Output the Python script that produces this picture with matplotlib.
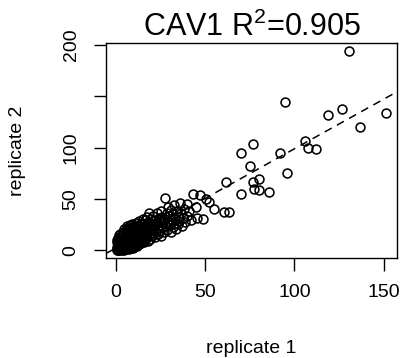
import numpy as np
import matplotlib
matplotlib.use("Agg")
import matplotlib.pyplot as plt

plt.rcParams['font.family'] = ['Liberation Sans', 'DejaVu Sans']
plt.rcParams['mathtext.fontset'] = 'custom'
plt.rcParams['mathtext.rm'] = 'Liberation Sans'
plt.rcParams['mathtext.it'] = 'Liberation Sans'
plt.rcParams['mathtext.bf'] = 'Liberation Sans'

title_text = "CAV1 R$^2$=0.905"
x_label = "replicate 1"
y_label = "replicate 2"
x_ticks = [0, 50, 100, 150]
y_ticks = [0, 50, 100, 150, 200]
y_tick_labels = ["0", "50", "100", "", "200"]

# fitted line
fit_intercept = 2.5
fit_slope = 0.965

# dense cluster (replicate 1, replicate 2)
cluster_pairs = [
    (0.4,0.5),(0.6,1.8),(0.7,3.5),(0.9,0.9),(1.0,5.2),(1.1,2.6),(1.3,0.4),(1.4,7.0),(1.5,4.1),(1.7,1.6),
    (1.8,9.2),(1.9,3.0),(2.0,6.0),(2.1,0.7),(2.3,2.1),(2.4,11.5),(2.5,4.8),(2.6,8.1),(2.8,1.2),(2.9,3.6),
    (3.0,13.6),(0.5,8.0),(0.8,10.5),(1.2,12.6),(1.6,14.8),(2.2,16.5),
    (3.1,5.5),(3.2,0.8),(3.3,9.8),(3.4,2.6),(3.5,7.2),(3.6,15.5),(3.7,4.0),(3.8,11.8),(3.9,1.5),(4.0,18.0),
    (4.1,6.4),(4.2,3.2),(4.3,8.9),(4.4,13.4),(4.5,0.6),(4.6,5.0),(4.7,20.5),(4.8,10.8),(4.9,2.3),(5.0,7.6),
    (5.1,16.8),(5.2,4.1),(5.3,12.5),(5.4,1.3),(5.5,9.5),(5.6,19.0),(5.7,6.0),(5.8,3.0),(5.9,14.4),
    (6.1,8.2),(6.2,2.0),(6.3,11.0),(6.4,17.0),(6.5,5.0),(6.6,21.5),(6.7,7.0),(6.8,13.5),(6.9,3.6),(7.0,9.6),
    (7.1,15.8),(7.2,1.5),(7.3,19.6),(7.4,6.2),(7.5,12.0),(7.6,24.5),(7.7,4.4),(7.8,8.8),(7.9,17.8),(8.0,10.6),
    (8.1,2.8),(8.2,14.2),(8.3,22.0),(8.4,6.8),(8.5,11.8),(8.6,19.4),(8.7,4.0),(8.8,9.0),(8.9,26.0),(9.0,15.5),
    (9.1,7.4),(9.2,12.8),(9.3,2.5),(9.4,21.0),(9.5,5.6),(9.6,17.0),(9.7,10.2),(9.8,24.0),(9.9,8.0),(10.0,13.8),
    (10.2,3.8),(10.4,19.0),(10.5,6.5),(10.7,11.5),(10.9,27.0),(11.0,15.6),(11.2,9.0),(11.4,22.5),(11.5,4.8),
    (11.7,13.0),(11.9,17.8),(12.0,7.4),(12.2,25.0),(12.4,10.8),(12.5,20.0),(12.7,5.9),(12.9,14.8),(13.0,29.0),
    (13.2,8.6),(13.4,17.2),(13.5,11.9),(13.7,23.6),(13.9,6.8),(14.0,20.4),(14.2,14.0),(14.4,27.0),(14.5,9.4),
    (14.7,16.6),(14.9,31.0),
    (15.0,12.2),(15.2,22.0),(15.4,7.8),(15.6,18.6),(15.8,26.2),(16.0,14.5),(16.2,10.2),(16.4,29.5),(16.6,20.6),
    (16.8,16.4),(17.0,12.0),(17.2,24.5),(17.4,33.0),(17.6,18.6),(17.8,9.2),(18.0,22.4),(18.4,14.6),
    (18.6,27.5),(18.8,20.0),(19.0,11.6),(19.2,31.0),(19.4,17.0),(19.6,24.0),(19.8,13.8),(20.0,28.5),
    (20.3,19.5),(20.6,34.0),(20.9,15.2),(21.2,25.5),(21.5,22.0),(21.8,30.0),(22.1,12.8),(22.4,18.4),(22.7,27.6),
    (23.0,36.5),(23.3,21.5),(23.6,16.2),(23.9,31.5),(24.2,24.8),(24.5,19.0),(24.8,28.5),(25.1,14.5),(25.4,38.0),
    (25.7,22.6),(26.0,33.0),
    (26.4,26.8),(26.8,18.0),(27.6,30.5),(28.0,23.5),(28.4,36.5),(28.8,20.0),(29.2,27.8),(29.8,33.5),
    (30.2,24.8),(30.6,39.0),(31.0,17.5),(31.4,29.5),(31.8,35.8),(32.2,22.6),(32.6,44.5),(33.0,31.0),(33.4,27.0),
    (33.8,20.5),(34.2,38.5),(34.6,33.0),(35.0,25.5),(35.5,29.0),(36.4,36.0),(37.5,31.5),(38.0,40.0),
    (38.5,27.5),(40.0,34.0),(41.0,38.5),(42.0,30.0),
]

# sparse points away from the cluster
outer_pairs = [
    (6.0,23.4),(18.2,36.4),(27.2,51.3),(29.4,42.2),(36.0,46.5),(37.0,23.4),(39.7,45.6),(43.2,55.2),(44.8,42.0),
    (45.3,31.8),(47.2,54.3),(49.0,30.9),(50.4,50.4),(51.9,47.1),(54.7,40.6),(60.8,37.5),(63.6,37.3),(61.5,66.8),
    (70.3,55.0),(70.0,94.5),(75.0,82.4),(76.8,103.6),(77.0,66.6),(77.1,60.1),(80.1,69.5),(80.0,58.5),(85.8,57.0),
    (92.1,94.5),(94.9,144.5),(95.9,75.0),(105.8,106.9),(107.9,99.7),(112.0,99.1),(118.7,131.6),(126.8,137.4),
    (130.5,194.3),(136.7,120.5),(151.5,133.8),
]

pts = np.array(cluster_pairs + outer_pairs)
rep1 = pts[:, 0]
rep2 = pts[:, 1]

W, H = 402, 358
fig = plt.figure(figsize=(W / 100, H / 100), dpi=100)
ax = fig.add_axes([106 / W, 1 - 258 / H, (397 - 106) / W, (258 - 43) / H])

ax.plot(rep1, rep2, linestyle='none', marker='o', markersize=6.4,
        markerfacecolor='none', markeredgecolor='black', markeredgewidth=1.15)

def r_lim(v):
    lo, hi = float(np.min(v)), float(np.max(v))
    d = 0.04 * (hi - lo)
    return lo - d, hi + d

ax.set_xlim(*r_lim(rep1))
ax.set_ylim(*r_lim(rep2))

ax.axline((0, fit_intercept), slope=fit_slope, color='black', lw=1.1,
          linestyle=(0, (5.2, 3.9)))

ax.set_xticks(x_ticks)
ax.set_xticklabels([str(t) for t in x_ticks])
ax.set_yticks(y_ticks)
ax.set_yticklabels(y_tick_labels, rotation=90, va='center')
ax.tick_params(axis='both', direction='out', length=9, width=1.0, labelsize=14, pad=10, colors='black')

for s in ax.spines.values():
    s.set_linewidth(1.0)

ax.set_title(title_text, fontsize=22, pad=4.5)

fig.text(251.5 / W, 1 - 353 / H, x_label, ha='center', va='baseline', fontsize=14)
fig.text(18 / W, 1 - 151 / H, y_label, ha='center', va='center', rotation=90, fontsize=14)

fig.savefig("out.png", dpi=100)
